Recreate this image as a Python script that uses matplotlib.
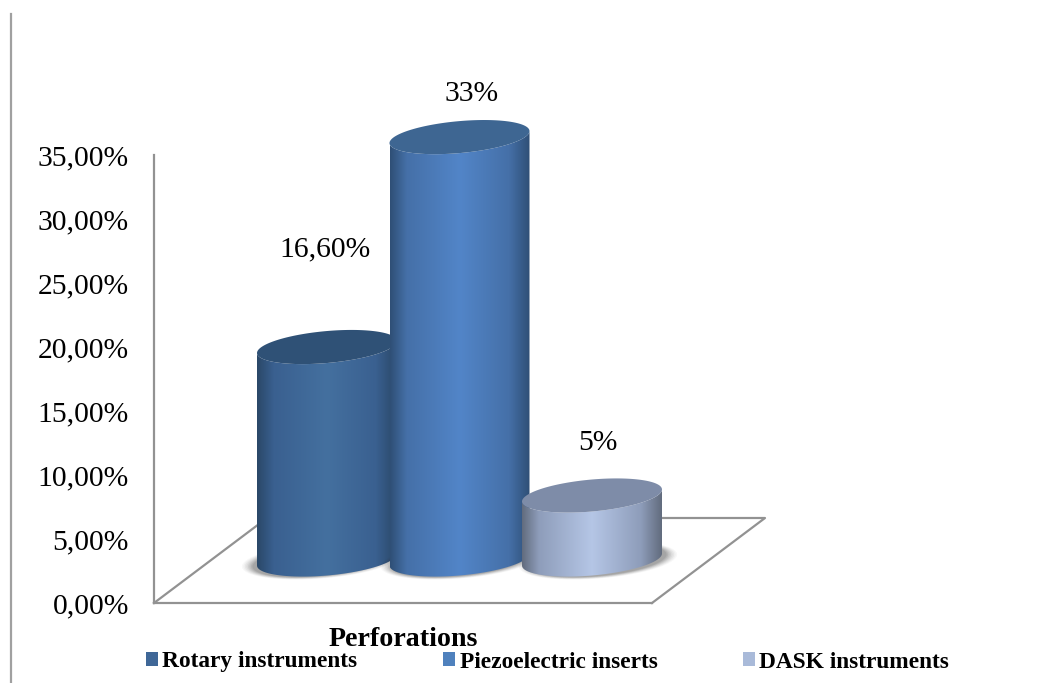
import numpy as np
import matplotlib
matplotlib.use("Agg")
import matplotlib.pyplot as plt
from matplotlib.colors import LinearSegmentedColormap
from matplotlib.lines import Line2D
from matplotlib.patches import Patch, Polygon
from matplotlib.ticker import FuncFormatter

series = ["Rotary instruments", "Piezoelectric inserts", "DASK instruments"]
values = [16.6, 33, 5]
value_labels = ["16,60%", "33%", "5%"]
category = "Perforations"
y_ticks = [0, 5, 10, 15, 20, 25, 30, 35]

legend_colors = ["#3F6797", "#4F81BD", "#A9BAD9"]
peak_colors = ["#44709F", "#5285C8", "#B5C6E6"]
top_colors = ["#2F5176", "#3E6692", "#7E8CA8"]
edge_colors = ["#2A4868", "#2F4F76", "#626C7E"]
shoulder = ["#3A6090", "#4570A8", "#8E9DBA"]

W, H = 1056, 683
ax_left, ax_right, ax_top, ax_bottom = 154, 652, 155, 603

plt.rcParams["font.family"] = ["Liberation Serif", "DejaVu Serif"]
fig = plt.figure(figsize=(W / 100, H / 100), dpi=100)
ax = fig.add_axes([ax_left / W, 1 - ax_bottom / H, (ax_right - ax_left) / W, (ax_bottom - ax_top) / H])

# escala: una categoria = 132.5 px, eje y de 0 a 35
px_x = 132.5
px_y = (ax_bottom - ax_top) / 35
xlim = (-(327 - ax_left) / px_x, (ax_right - 327) / px_x)
ylim = (0, 35)

# geometria de los cilindros en unidades de datos
a = 70 / px_x
b = 16 / px_y
k = 6 / px_y
floor_y = 43.5 / px_y
depth_x = 113 / px_x
depth_y = 85 / px_y
shadow_shift = [-6 / px_x, 0, 6 / px_x]


def ellipse(cx, cy, sa, sb, sk, t):
    return cx + sa * np.cos(t), cy + sb * np.sin(t) + sk * np.cos(t)


# piso en perspectiva
floor_x = [xlim[0], xlim[0] + depth_x, xlim[1] + depth_x, xlim[1]]
floor_v = [0, depth_y, depth_y, 0]
ax.add_line(Line2D(floor_x, floor_v, color="#929292", lw=1.6, clip_on=False, zorder=1))

t_lower = np.linspace(np.pi, 2 * np.pi, 80)
t_full = np.linspace(0, 2 * np.pi, 160)

for i, v in enumerate(values):
    z = 2 + i
    # sombra difusa en la base
    for grow, alpha in zip(np.linspace(1.13, 0.98, 8), [0.03, 0.04, 0.05, 0.06, 0.07, 0.08, 0.09, 0.1]):
        sx, sy = ellipse(i + shadow_shift[i], floor_y - 1 / px_y, a * grow, b * grow, k, t_full)
        ax.add_patch(Polygon(np.column_stack([sx, sy]), fc="#303030", ec="none", alpha=alpha,
                             clip_on=False, zorder=z))

    top = floor_y + v
    bx, by = ellipse(i, floor_y, a, b, k, t_lower)
    tx, ty = ellipse(i, top, a, b, k, t_lower[::-1])
    body = Polygon(np.column_stack([np.r_[bx, tx], np.r_[by, ty]]), fc="none", ec="none",
                   transform=ax.transData, zorder=z)
    ax.add_patch(body)

    cmap = LinearSegmentedColormap.from_list(
        "cyl",
        [(0, edge_colors[i]), (0.12, shoulder[i]), (0.5, peak_colors[i]),
         (0.85, shoulder[i]), (1, edge_colors[i])],
    )
    img = ax.imshow(np.linspace(0, 1, 256)[None, :], cmap=cmap, aspect="auto",
                    extent=[i - a, i + a, floor_y - 2 * b, top + 2 * b], zorder=z)
    img.set_clip_path(body)
    img.set_clip_box(fig.bbox)

    ux, uy = ellipse(i, top, a, b, k, t_full)
    ax.add_patch(Polygon(np.column_stack([ux, uy]), fc=top_colors[i], ec="none", clip_on=False, zorder=z))

ax.set_xlim(xlim)
ax.set_ylim(ylim)

# etiquetas de valor
label_offsets = [(-2, 98), (12, 43), (6, 53)]
for i, v in enumerate(values):
    ax.annotate(value_labels[i], xy=(i, floor_y + v), xytext=(label_offsets[i][0] * 0.72, label_offsets[i][1] * 0.72),
                textcoords="offset points", ha="center", va="center", fontsize=21.3, color="black",
                annotation_clip=False, zorder=10)

ax.set_yticks(y_ticks)
ax.yaxis.set_major_formatter(FuncFormatter(lambda v, pos: f"{v:.2f}".replace(".", ",") + "%"))
ax.tick_params(axis="y", length=0, pad=18, labelsize=21.3)
ax.set_xticks([])
ax.set_xlabel(category, fontsize=20.2, fontweight="bold", labelpad=17)
ax.patch.set_alpha(0)
for side in ["top", "right"]:
    ax.spines[side].set_visible(False)
for side in ["left", "bottom"]:
    ax.spines[side].set_color("#929292")
    ax.spines[side].set_linewidth(1.6)

handles = [Patch(fc=c, ec="none") for c in legend_colors]
fig.legend(handles, series, ncol=3, loc="center", bbox_to_anchor=(547.5 / W, 1 - 662 / H), frameon=False,
           prop={"size": 16.8, "weight": "bold"}, handlelength=0.52, handleheight=0.52, handletextpad=0.2,
           columnspacing=3.65, borderpad=0, borderaxespad=0)

# linea vertical suelta a la izquierda
fig.add_artist(Line2D([10.5 / W, 10.5 / W], [0, 1 - 14 / H], color="#A0A0A0", lw=1.6))

fig.savefig("out.png", dpi=100)
